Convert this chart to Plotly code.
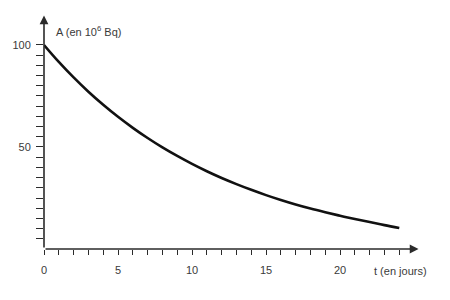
import plotly.graph_objects as go

# Data (t in days, A in 10^6 Bq)
t_days = list(range(0, 25))
activity = [100, 91.7, 84.1, 77.1, 70.7, 64.8, 59.4, 54.4, 49.8, 45.6, 41.7,
            38.1, 34.8, 31.8, 29.0, 26.4, 24.0, 21.8, 19.8, 18.0, 16.3, 14.7,
            13.2, 11.7, 10.3]

x_tickvals = list(range(0, 25))
x_ticktext = [str(v) if v % 5 == 0 and v <= 20 else "" for v in x_tickvals]
y_tickvals = list(range(5, 105, 5))
y_ticktext = [str(v) if v in (50, 100) else "" for v in y_tickvals]

ink = "#2b2b2b"
font = dict(family="Liberation Sans, Arial, sans-serif", size=11, color="#3a3a3a")

# plot area in pixels: x 40..420, y 15..249
L, R, T, B = 40, 420, 15, 249


def px(x):
    return (x - L) / (R - L)


def py(y):
    return (B - y) / (B - T)


fig = go.Figure()
fig.add_trace(go.Scatter(x=t_days, y=activity, mode="lines",
                         line=dict(color="#111111", width=2.6, shape="spline", smoothing=1.0),
                         hoverinfo="skip", showlegend=False))

fig.update_layout(
    width=450, height=300,
    margin=dict(l=L, r=450 - R, t=T, b=300 - B),
    paper_bgcolor="white", plot_bgcolor="white",
    font=font,
    xaxis=dict(range=[0, 25.4], tickvals=x_tickvals, ticktext=x_ticktext,
               ticks="outside", ticklen=5, tickwidth=1, tickcolor=ink,
               showgrid=False, zeroline=False, showline=False,
               ticklabelstandoff=6, fixedrange=True),
    yaxis=dict(range=[0, 114.7], tickvals=y_tickvals, ticktext=y_ticktext,
               ticks="outside", ticklen=7, tickwidth=1, tickcolor=ink,
               showgrid=False, zeroline=False, showline=False,
               ticklabelstandoff=3, fixedrange=True),
)

# Axes with arrowheads
fig.add_annotation(x=25.3, y=0, ax=0, ay=0, xref="x", yref="y", axref="x", ayref="y",
                   text="", showarrow=True, arrowhead=2, arrowsize=1.1, arrowwidth=1.6,
                   arrowcolor=ink)
fig.add_annotation(x=0, y=114.5, ax=0, ay=0, xref="x", yref="y", axref="x", ayref="y",
                   text="", showarrow=True, arrowhead=2, arrowsize=1.1, arrowwidth=1.6,
                   arrowcolor=ink)

# Axis titles
fig.add_annotation(x=px(50), y=py(31), xref="paper", yref="paper",
                   text="A (en 10<sup>6</sup> Bq)", showarrow=False,
                   xanchor="left", yanchor="middle", font=font)
fig.add_annotation(x=px(371), y=py(271), xref="paper", yref="paper",
                   text="t (en jours)", showarrow=False,
                   xanchor="left", yanchor="middle", font=font)

fig.write_html("out.html")
